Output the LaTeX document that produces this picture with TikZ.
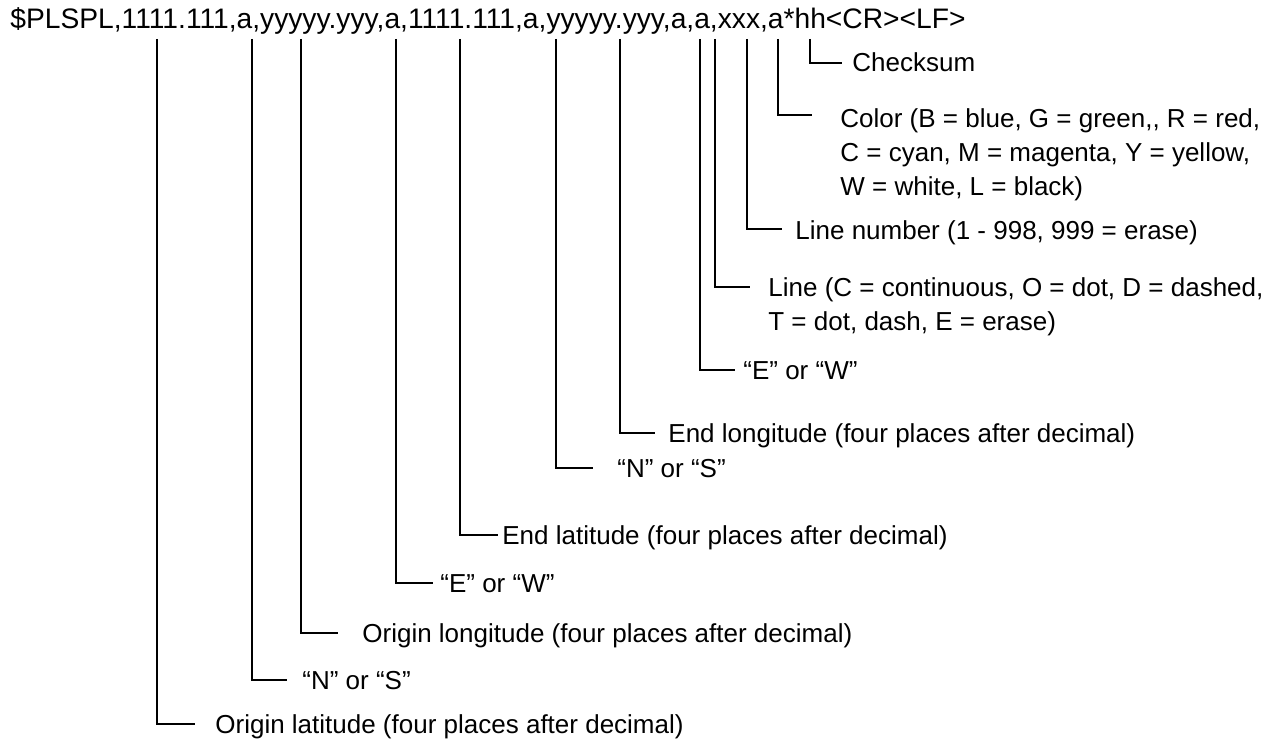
\documentclass[tikz,border=0pt]{standalone}
\usepackage{fontspec}
\setmainfont{Liberation Sans}
\usetikzlibrary{positioning, calc}

\begin{document}
\begin{tikzpicture}[x=0.5pt, y=-0.5pt,
        msgtext/.style={inner sep=0pt, anchor=base west, font=\fontsize{14.1}{17}\selectfont},
        fieldtext/.style={inner sep=0pt, anchor=base west, align=left, font=\fontsize{13}{17}\selectfont},
        leader/.style={line width=1.4pt, black}
    ]
        \fill[white] (0,0) rectangle (1279,749);
        \useasboundingbox (0,0) rectangle (1279,749);

        % Sentence
        \node[msgtext] (msg) at (10,29) {\$PLSPL,1111.111,a,yyyyy.yyy,a,1111.111,a,yyyyy.yyy,a,a,xxx,a*hh<CR><LF>};

        % Field descriptions (base of the last line for the wrapped ones)
        \node[fieldtext] (csum) at (852,72) {Checksum};
        \node[fieldtext] (lcol) at (840,195) {Color (B = blue, G = green,{},{} R = red,\\C = cyan, M = magenta, Y = yellow,\\W = white, L = black)};
        \node[fieldtext] (lnum) at (795,239) {Line number (1 - 998, 999 = erase)};
        \node[fieldtext] (ltype) at (768,330) {Line (C = continuous, O = dot, D = dashed,\\T = dot, dash, E = erase)};
        \node[fieldtext] (elonew) at (743,379) {“E” or “W”};
        \node[fieldtext] (elon) at (668,442) {End longitude (four places after decimal)};
        \node[fieldtext] (elatns) at (617,477) {“N” or “S”};
        \node[fieldtext] (elat) at (502,544) {End latitude (four places after decimal)};
        \node[fieldtext] (olonew) at (440,592) {“E” or “W”};
        \node[fieldtext] (olon) at (362,642) {Origin longitude (four places after decimal)};
        \node[fieldtext] (olatns) at (302,689) {“N” or “S”};
        \node[fieldtext] (olat) at (215,733) {Origin latitude (four places after decimal)};

        % Leader tops under the sentence
        \coordinate (olat-t) at (157,39);
        \coordinate (olatns-t) at (252,39);
        \coordinate (olon-t) at (301,39);
        \coordinate (olonew-t) at (396,39);
        \coordinate (elat-t) at (460,39);
        \coordinate (elatns-t) at (556,39);
        \coordinate (elon-t) at (620,39);
        \coordinate (elonew-t) at (700,39);
        \coordinate (ltype-t) at (715,39);
        \coordinate (lnum-t) at (747,39);
        \coordinate (lcol-t) at (778,39);
        \coordinate (csum-t) at (810,39);

        % Leader feet
        \coordinate (olat-f) at (195,724);
        \coordinate (olatns-f) at (287,680);
        \coordinate (olon-f) at (338,633);
        \coordinate (olonew-f) at (433,583);
        \coordinate (elat-f) at (498,535);
        \coordinate (elatns-f) at (593,468);
        \coordinate (elon-f) at (655,433);
        \coordinate (elonew-f) at (735,370);
        \coordinate (ltype-f) at (750,287);
        \coordinate (lnum-f) at (782,229);
        \coordinate (lcol-f) at (812,115);
        \coordinate (csum-f) at (842,63);

        % Leaders
        \draw[leader] (olat-t) |- (olat-f);
        \draw[leader] (olatns-t) |- (olatns-f);
        \draw[leader] (olon-t) |- (olon-f);
        \draw[leader] (olonew-t) |- (olonew-f);
        \draw[leader] (elat-t) |- (elat-f);
        \draw[leader] (elatns-t) |- (elatns-f);
        \draw[leader] (elon-t) |- (elon-f);
        \draw[leader] (elonew-t) |- (elonew-f);
        \draw[leader] (ltype-t) |- (ltype-f);
        \draw[leader] (lnum-t) |- (lnum-f);
        \draw[leader] (lcol-t) |- (lcol-f);
        \draw[leader] (csum-t) |- (csum-f);

    \end{tikzpicture}
\end{document}
